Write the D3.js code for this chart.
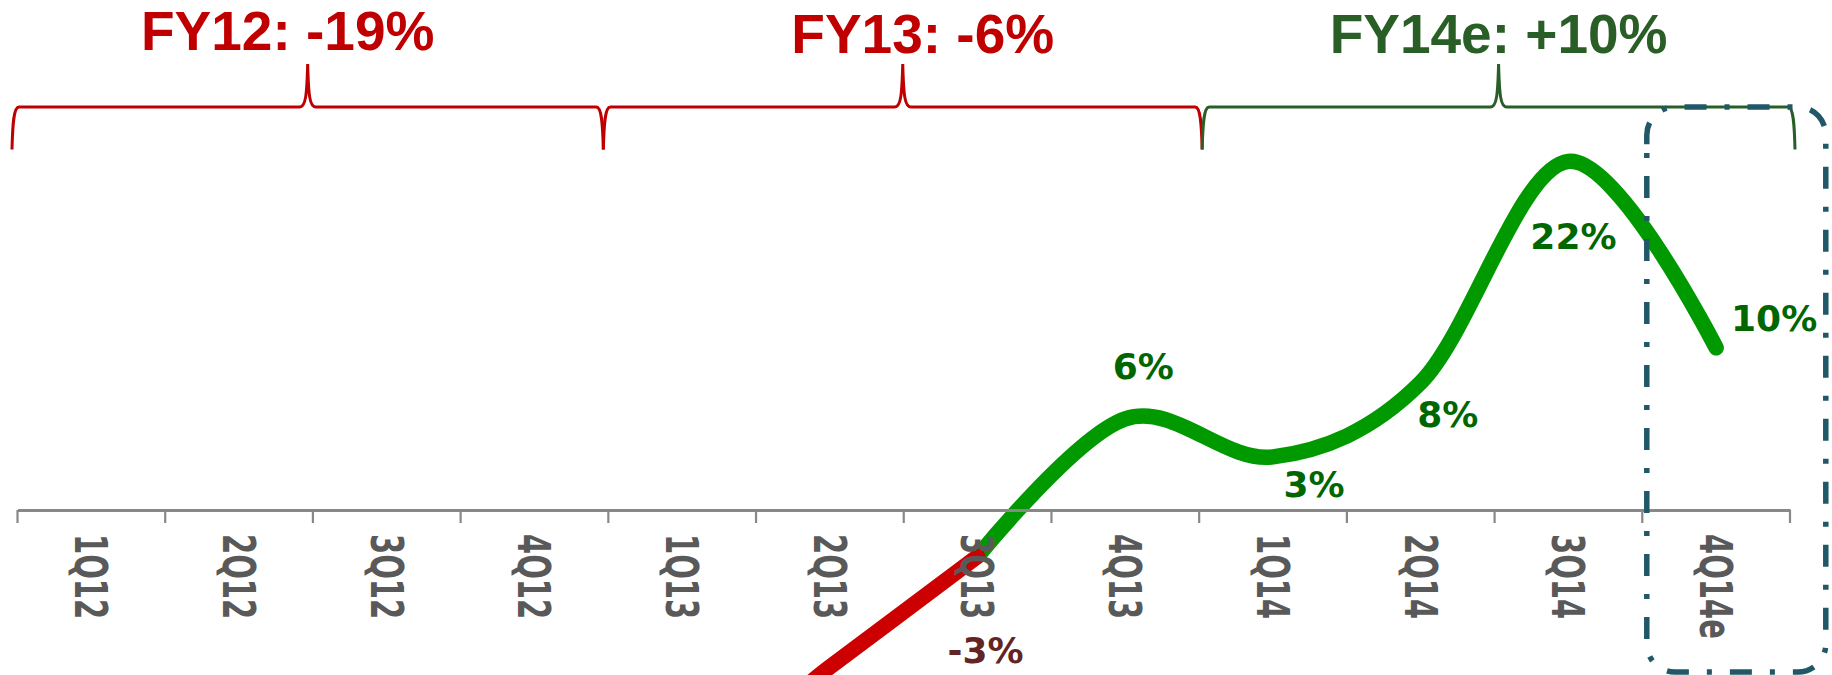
<!DOCTYPE html>
<html><head><meta charset="utf-8">
<script src="https://cdn.jsdelivr.net/npm/d3@7"></script>
<style>html,body{margin:0;padding:0;background:#fff;overflow:hidden}</style>
</head><body>
<svg id="chart" width="1832" height="675"></svg>
<script>
// ---- data ----
const quarters = ["1Q12","2Q12","3Q12","4Q12","1Q13","2Q13","3Q13","4Q13","1Q14","2Q14","3Q14","4Q14e"];
const declineQuarters = ["1Q12","2Q12","3Q12","4Q12","1Q13","2Q13","3Q13"];
const declineValues = [-18, -20, -21, -17, -17, -10, -3];
const growthQuarters = ["3Q13","4Q13","1Q14","2Q14","3Q14","4Q14e"];
const growthValues = [-3, 5.7, 3.3, 8, 22, 10.2];
const pointLabels = ["-3%","6%","3%","8%","22%","10%"];
const fiscalLabels = ["FY12: -19%","FY13: -6%","FY14e: +10%"];
const fiscalStart = ["1Q12","1Q13","1Q14"];
const fiscalEnd = ["4Q12","4Q13","4Q14e"];
const highlightQuarter = "4Q14e";

// ---- layout / style ----
const W = 1832, H = 675;
const svg = d3.select("#chart");
const x = d3.scaleBand().domain(quarters).range([17.5, 1790]).padding(0);
const y = d3.scaleLinear().domain([0, 22]).range([509, 509 - 15.8 * 22]);
const axisY = 510;
const cx = q => x(q) + x.bandwidth() / 2;

// axis
const axisG = svg.append("g").attr("transform", `translate(0,${axisY})`)
  .call(d3.axisBottom(x).tickSize(0).tickSizeOuter(0));
axisG.select(".domain").attr("stroke", "#888888").attr("stroke-width", 3);
const bounds = d3.range(quarters.length + 1).map(i => x.range()[0] + i * x.step());
axisG.selectAll("line.bound").data(bounds).join("line").attr("class", "bound")
  .attr("x1", d => d).attr("x2", d => d).attr("y1", 0).attr("y2", 13)
  .attr("stroke", "#888888").attr("stroke-width", 2.2);

// lines
const line = d3.line().x(d => cx(d[0])).y(d => y(d[1])).curve(d3.curveCardinal.tension(0));
svg.append("path").datum(growthQuarters.map((q, i) => [q, growthValues[i]]))
  .attr("d", line).attr("fill", "none").attr("stroke", "#009900")
  .attr("stroke-width", 15.5).attr("stroke-linecap", "round").attr("stroke-linejoin", "round");
svg.append("path").datum(declineQuarters.map((q, i) => [q, declineValues[i]]))
  .attr("d", line).attr("fill", "none").attr("stroke", "#cc0000")
  .attr("stroke-width", 15.5).attr("stroke-linecap", "round").attr("stroke-linejoin", "round");

// axis labels (on top of lines)
axisG.raise();
axisG.selectAll(".tick text")
  .attr("x", 0).attr("y", 0).attr("dy", null)
  .attr("text-anchor", "start")
  .attr("transform", "translate(-16.2,24) rotate(90) scale(1,1.53)")
  .attr("fill", "#595959")
  .style("font-family", "'DejaVu Sans', Verdana, sans-serif")
  .style("font-weight", "bold").style("font-size", "29px");

// data labels
const labelOffsets = [[8, 107], [18, -40], [41, 40], [27, 44], [5, 88], [58, -17]];
svg.append("g").selectAll("text").data(growthQuarters).join("text")
  .attr("x", (q, i) => cx(q) + labelOffsets[i][0])
  .attr("y", (q, i) => y(growthValues[i]) + labelOffsets[i][1])
  .attr("text-anchor", "middle")
  .attr("fill", (q, i) => growthValues[i] < 0 ? "#632523" : "#006600")
  .style("font-family", "'DejaVu Sans', Verdana, sans-serif")
  .style("font-weight", "bold").style("font-size", "36px")
  .text((q, i) => pointLabels[i]);

// braces + fiscal titles
const yt = 107, yb = 149.5, tip = 64;
function bracePath(x1, x2) {
  const m = (x1 + x2) / 2;
  return `M${x1},${yb} C${x1 + 0.6},${yt + 18} ${x1 + 1.5},${yt} ${x1 + 7},${yt}` +
    ` L${m - 8},${yt} C${m - 2},${yt} ${m - 0.8},${yt - 12} ${m},${tip}` +
    ` C${m + 0.8},${yt - 12} ${m + 2},${yt} ${m + 8},${yt}` +
    ` L${x2 - 7},${yt} C${x2 - 1.5},${yt} ${x2 - 0.6},${yt + 18} ${x2},${yb}`;
}
const fyColor = i => i < 2 ? "#c00000" : "#2a5e27";
const braceAdj = [[-5.5, -5], [-5, 3], [3, 5]];
const titleBase = [50, 53, 53];
fiscalLabels.forEach((lab, i) => {
  const x1 = x(fiscalStart[i]) + braceAdj[i][0];
  const x2 = x(fiscalEnd[i]) + x.bandwidth() + braceAdj[i][1];
  svg.append("path").attr("d", bracePath(x1, x2)).attr("fill", "none")
    .attr("stroke", fyColor(i)).attr("stroke-width", 3);
  svg.append("text").attr("x", (x1 + x2) / 2 - (i === 0 ? 20 : 0) + (i === 1 ? 20 : 0)).attr("y", titleBase[i])
    .attr("text-anchor", "middle").attr("fill", fyColor(i))
    .style("font-family", "'Liberation Sans', Arial, sans-serif")
    .style("font-weight", "bold").style("font-size", "55px")
    .text(lab);
});

// dashed highlight box around estimate quarter
const bx1 = x(highlightQuarter) + 4.5, bx2 = bx1 + 179, by1 = yt, by2 = 672, r = 28;
const boxPath = `M${bx1},153 V${by2 - r} A${r},${r} 0 0 0 ${bx1 + r},${by2} H${bx2 - r}` +
  ` A${r},${r} 0 0 0 ${bx2},${by2 - r} V${by1 + r} A${r},${r} 0 0 0 ${bx2 - r},${by1}` +
  ` H${bx1 + r} A${r},${r} 0 0 0 ${bx1},${by1 + r} Z`;
svg.append("path").attr("d", boxPath).attr("fill", "none")
  .attr("stroke", "#215868").attr("stroke-width", 5.5)
  .attr("stroke-dasharray", "5 18 22 18");
</script>
</body></html>
